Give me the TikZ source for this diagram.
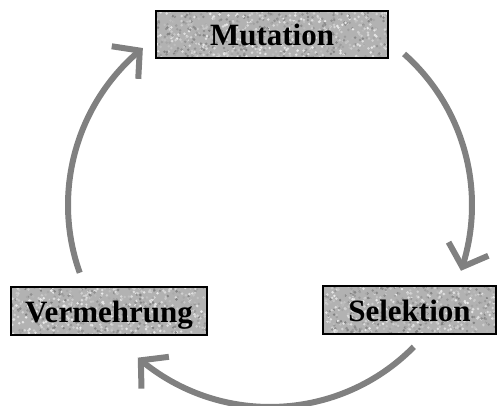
\documentclass[tikz,border=0pt]{standalone}
\usepackage{fontspec}
\setmainfont{Liberation Serif}
\usetikzlibrary{arrows.meta,bending,calc}
\tikzset{
  granite/.style={path picture={
    \path (path picture bounding box.north west) coordinate (gnw)
          (path picture bounding box.north east) coordinate (gne)
          (path picture bounding box.south west) coordinate (gsw);
    \fill[black!30] (path picture bounding box.north west) rectangle (path picture bounding box.south east);
    \foreach \i in {1,...,#1}{
      \pgfmathsetmacro\ga{rnd}
      \pgfmathsetmacro\gb{rnd}
      \pgfmathsetmacro\gk{int(8+rnd*42)}
      \fill[black!\gk] ($(gnw)+\ga*(gne)-\ga*(gnw)+\gb*(gsw)-\gb*(gnw)$) circle (1.4);
    }
  }},
  stagebox/.style={draw=black, line width=2pt, inner sep=0pt,
    font=\bfseries\fontsize{31}{36}\selectfont, text height=29pt, text depth=6pt},
  cyclearrow/.style={draw=black!50, line width=6pt, line cap=butt,
    -{Straight Barb[length=19pt,width=42pt,flex]}}
}
\begin{document}
\begin{tikzpicture}[x=1pt,y=-1pt]
\pgfmathsetseed{7}
\useasboundingbox (0,0) rectangle (498,405);
\node[stagebox, granite=900, minimum width=232pt, minimum height=47pt] (mut) at (272,34) {Mutation};
\node[stagebox, granite=800, minimum width=196pt, minimum height=48pt] (verm) at (109,311) {Vermehrung};
\node[stagebox, granite=700, minimum width=173pt, minimum height=48pt] (sel) at (409.5,310) {Selektion};
\coordinate (c) at (270,205);
\coordinate (a1) at ($(c)+(-48.4:202)$);
\coordinate (a2) at ($(c)+(44.6:202)$);
\coordinate (a3) at ($(c)+(160.4:202)$);
\draw[cyclearrow] (a1) arc[start angle=-48.4, end angle=19, radius=202];
\draw[cyclearrow] (a2) arc[start angle=44.6, end angle=130.9, radius=202];
\draw[cyclearrow] (a3) arc[start angle=160.4, end angle=231, radius=202];
\end{tikzpicture}
\end{document}
